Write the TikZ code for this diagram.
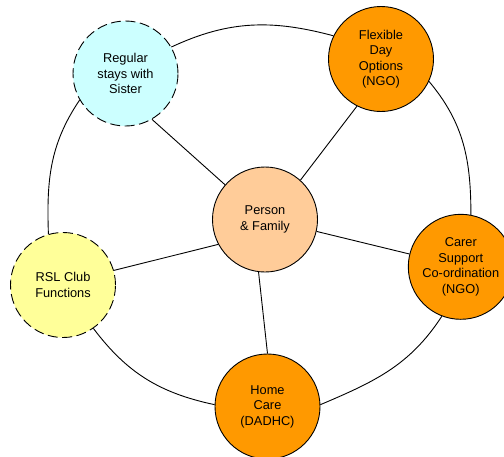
\documentclass[tikz,border=0pt]{standalone}
\usepackage{fontspec}
\setmainfont{Liberation Sans}
\definecolor{hubfill}{HTML}{FFCC99}
\definecolor{ngofill}{HTML}{FF9900}
\definecolor{sisterfill}{HTML}{CCFFFF}
\definecolor{clubfill}{HTML}{FFFF99}
\begin{document}
\begin{tikzpicture}[x=1pt, y=1pt, line width=0.9pt,
    bubble/.style={circle, draw, minimum size=105pt, inner sep=0pt, align=center,
        font=\fontsize{12.8}{15.5}\selectfont},
    formal/.style={bubble, fill=ngofill},
    informal/.style={bubble, dash pattern=on 10pt off 4.5pt}]
    \useasboundingbox (0,0) rectangle (504,-456);
    \clip (0,0) rectangle (504,-456);

    % Centre
    \node[bubble, fill=hubfill] (person) at (265,-219.5) {Person\\\& Family};

    % Supports
    \node[informal, fill=sisterfill] (sister) at (125.5,-73.5) {Regular\\stays with\\Sister};
    \node[formal] (dayopt) at (381,-59) {Flexible\\Day\\Options\\(NGO)};
    \node[formal] (carer) at (460.8,-266.8) {Carer\\Support\\Co-ordination\\(NGO)};
    \node[formal] (homecare) at (267.5,-406.5) {Home\\Care\\(DADHC)};
    \node[informal, fill=clubfill] (rsl) at (63,-285) {RSL Club\\Functions};

    % Spokes
    \draw (person.139) -- (sister.300);
    \draw (person.48) -- (dayopt.243);
    \draw (person.347) -- (carer.166);
    \draw (person.263) -- (homecare.90);
    \draw (person.208) -- (rsl.16);

    % Outer ring
    \draw (sister.30) to[out=25, in=165] (dayopt.154);
    \draw (dayopt.335) to[out=-50, in=90] (carer.79);
    \draw (carer.249) to[out=237, in=23] (homecare.2);
    \draw (rsl.305) to[out=-53, in=168] (homecare.178);
    \draw (rsl.106) to[out=92, in=236] (sister.210);
\end{tikzpicture}
\end{document}
